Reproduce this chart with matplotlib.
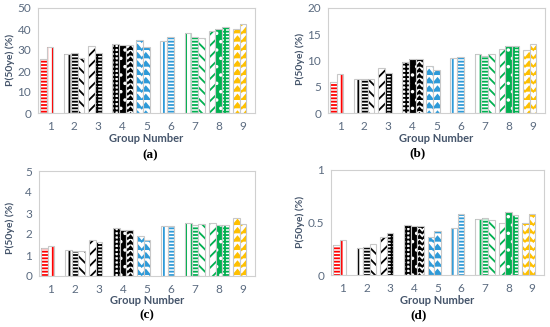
import warnings
import numpy as np
import matplotlib
matplotlib.use("Agg")
from matplotlib import pyplot as plt
import matplotlib.hatch as mhatch
from matplotlib.path import Path

warnings.filterwarnings("ignore")

nan = np.nan
groups = [1, 2, 3, 4, 5, 6, 7, 8, 9]

# three bars per group (third one missing in some groups)
a_s1 = [25.8, 28.0, 31.8, 33.0, 34.8, 34.5, 38.0, 39.0, 40.0]
a_s2 = [31.3, 28.5, 28.8, 32.5, 31.3, 36.3, 36.3, 40.0, 42.3]
a_s3 = [nan, 26.3, nan, 32.5, nan, nan, 35.8, 41.0, nan]

b_s1 = [6.0, 6.5, 8.5, 9.8, 8.9, 10.5, 11.3, 12.2, 12.0]
b_s2 = [7.4, 6.5, 7.6, 10.2, 8.2, 10.75, 10.9, 12.8, 13.1]
b_s3 = [nan, 6.5, nan, 10.2, nan, nan, 11.3, 12.8, nan]

c_s1 = [1.33, 1.25, 1.73, 2.27, 1.89, 2.36, 2.52, 2.54, 2.78]
c_s2 = [1.43, 1.18, 1.60, 2.20, 1.71, 2.36, 2.44, 2.41, 2.46]
c_s3 = [nan, 1.17, nan, 2.18, nan, nan, 2.49, 2.41, nan]

d_s1 = [0.29, 0.26, 0.36, 0.48, 0.36, 0.45, 0.53, 0.50, 0.50]
d_s2 = [0.33, 0.27, 0.40, 0.47, 0.42, 0.58, 0.54, 0.60, 0.58]
d_s3 = [nan, 0.30, nan, 0.47, nan, nan, 0.52, 0.57, nan]

RED, BLK, BLU, GRN, YEL = '#FF0000', '#000000', '#2E9AD8', '#00B050', '#FFC000'

# (colour, hatch, solid) for each group / slot
styles = [
    [(RED, '-----', False), (RED, '|||', False), None],
    [(BLK, '|||', False), (BLK, '-----', False), (BLK, '\\\\\\', False)],
    [(BLK, '///', False), (BLK, '|||-----', False), None],
    [(BLK, '++++', False), (BLK, '..', True), (BLK, 'zzz', False)],
    [(BLU, 'zz', False), (BLU, 'zz', False), None],
    [(BLU, '|||', False), (BLU, '-----', False), None],
    [(GRN, '|||', False), (GRN, '-----', False), (GRN, '\\\\\\', False)],
    [(GRN, '///', False), (GRN, '..', True), (GRN, '|||-----', False)],
    [(YEL, 'zz', False), (YEL, 'zz', False), None],
]


# chevron hatch, used with the letter 'z'
class ZigZag(mhatch.HatchPatternBase):
    def __init__(self, hatch, density):
        self.rows = int(hatch.count('z') * density)
        self.cols = max(self.rows, 1)
        self.num_vertices = self.rows * (2 * self.cols + 1)

    def set_vertices_and_codes(self, vertices, codes):
        n = 2 * self.cols + 1
        xs = np.linspace(0, 1, n)
        step = 1.0 / self.rows
        for i in range(self.rows):
            vertices[i * n:(i + 1) * n, 0] = xs
            vertices[i * n:(i + 1) * n, 1] = i * step + step * 0.6 * (np.arange(n) % 2)
            codes[i * n] = Path.MOVETO
            codes[i * n + 1:(i + 1) * n] = Path.LINETO


mhatch._hatch_types.append(ZigZag)
plt.rcParams['hatch.linewidth'] = 1.3

W, H = 550, 327
TICK_C = '#5B6B80'
LAB_C = '#44546A'

panels = [
    ((a_s1, a_s2, a_s3), 50, [0, 10, 20, 30, 40, 50], (38, 8, 255, 113), '(a)', (150, 155), (10, 60)),
    ((b_s1, b_s2, b_s3), 20, [0, 5, 10, 15, 20], (328, 8, 545, 113), '(b)', (418, 153), (300, 59)),
    ((c_s1, c_s2, c_s3), 5, [0, 1, 2, 3, 4, 5], (39, 171, 255, 276), '(c)', (147, 315), (10, 228)),
    ((d_s1, d_s2, d_s3), 1, [0, 0.5, 1], (331, 170, 544, 275), '(d)', (419, 315), (300, 222)),
]

fig = plt.figure(figsize=(W / 100, H / 100), dpi=100)
w = 0.28

for series, ytop, yticks, (x0, y0, x1, y1), cap, cpos, ylpos in panels:
    ax = fig.add_axes([x0 / W, 1 - y1 / H, (x1 - x0) / W, (y1 - y0) / H])
    for slot, vals in enumerate(series):
        for gi, g in enumerate(groups):
            v = vals[gi]
            st = styles[gi][slot]
            if np.isnan(v) or st is None:
                continue
            col, hatch, solid = st
            xpos = g + (slot - 1) * w
            if solid:
                ax.bar(xpos, v, w, color=col, edgecolor='white', hatch=hatch, lw=0)
            else:
                ax.bar(xpos, v, w, color='white', edgecolor=col, hatch=hatch, lw=0)
            ax.bar(xpos, v, w, fill=False, edgecolor='#C8C8C8', lw=0.8)
    ax.set_xlim(0.5, 9.5)
    ax.set_ylim(0, ytop)
    ax.set_xticks(groups)
    ax.set_yticks(yticks)
    ax.set_yticklabels(['%g' % t for t in yticks])
    ax.tick_params(length=0, labelsize=8.5, labelcolor=TICK_C)
    ax.tick_params(axis='x', pad=6)
    ax.tick_params(axis='y', pad=5)
    for lbl in ax.get_xticklabels() + ax.get_yticklabels():
        lbl.set_family('Lato')
    for sp in ax.spines.values():
        sp.set_color('#D0D0D0')
        sp.set_linewidth(0.8)
    xc = (x0 + x1) / 2
    fig.text(xc / W, 1 - (y1 + 25) / H, 'Group Number', ha='center', va='center',
             family='Lato', weight='bold', size=8, color=LAB_C)
    fig.text(ylpos[0] / W, 1 - ylpos[1] / H, 'P(50ye) (%)', rotation=90, ha='center',
             va='center', family='Lato', weight='bold', size=7.5, color=LAB_C)
    fig.text(cpos[0] / W, 1 - cpos[1] / H, cap, ha='center', va='center',
             family='Liberation Serif', weight='bold', size=9.5)

plt.savefig('out.png', dpi=100)
